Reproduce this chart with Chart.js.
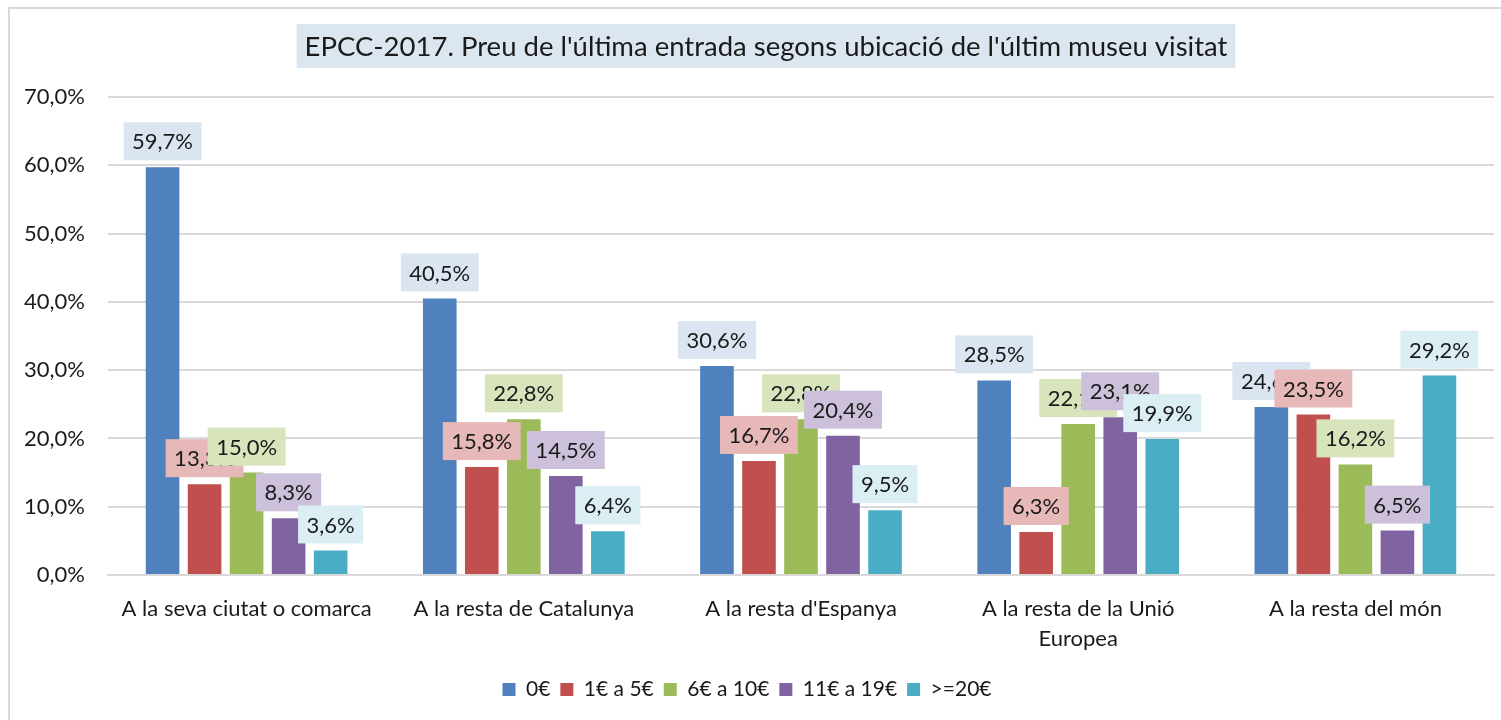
<!DOCTYPE html>
<html>
<head>
<meta charset="utf-8">
<script src="https://cdn.jsdelivr.net/npm/chart.js@4/dist/chart.umd.min.js"></script>
<style>
  html, body { margin: 0; padding: 0; background: #ffffff; }
  #wrap { position: relative; width: 1501px; height: 720px; }
</style>
</head>
<body>
<div id="wrap"><canvas id="chart" width="1501" height="720"></canvas></div>
<script>
// Museum location categories (x axis)
const categories = [
  'A la seva ciutat o comarca',
  'A la resta de Catalunya',
  "A la resta d'Espanya",
  ['A la resta de la Unió', 'Europea'],
  'A la resta del món'
];

// Ticket price brackets (series names)
const seriesNames = ['0€', '1€ a 5€', '6€ a 10€', '11€ a 19€', '>=20€'];

// Percentage of visitors per price bracket, one value per location
const price0 = [59.7, 40.5, 30.6, 28.5, 24.6];
const price1to5 = [13.3, 15.8, 16.7, 6.3, 23.5];
const price6to10 = [15.0, 22.8, 22.8, 22.1, 16.2];
const price11to19 = [8.3, 14.5, 20.4, 23.1, 6.5];
const price20plus = [3.6, 6.4, 9.5, 19.9, 29.2];

// Y axis tick values
const yTicks = [0, 10, 20, 30, 40, 50, 60, 70];

const chartTitle = "EPCC-2017. Preu de l'última entrada segons ubicació de l'últim museu visitat";

const barColors = ['#4f81bd', '#c0504d', '#9bbb59', '#8064a2', '#4bacc6'];
const labelFills = ['#dbe5f1', '#e6b9b8', '#d8e4bc', '#ccc0da', '#daeef3'];

const FONT = 'Lato, "Open Sans", sans-serif';
const fmt = v => v.toFixed(1).replace('.', ',') + '%';

// Light frame plus the boxed title at the top
const frameTitle = {
  id: 'frameTitle',
  beforeDraw(chart) {
    const ctx = chart.ctx;
    ctx.save();
    ctx.fillStyle = '#ffffff';
    ctx.fillRect(0, 0, chart.width, chart.height);
    ctx.strokeStyle = '#d9d9d9';
    ctx.lineWidth = 2;
    ctx.beginPath();
    ctx.moveTo(9, chart.height + 5);
    ctx.lineTo(9, 8);
    ctx.lineTo(chart.width + 5, 8);
    ctx.stroke();

    ctx.font = '27.5px ' + FONT;
    ctx.textBaseline = 'middle';
    ctx.textAlign = 'center';
    const cx = 766, cy = 46;
    const w = ctx.measureText(chartTitle).width + 16;
    ctx.fillStyle = '#dce6f1';
    ctx.fillRect(cx - w / 2, 24, w, 44);
    ctx.fillStyle = '#1a1a1a';
    ctx.fillText(chartTitle, cx, cy + 1);
    ctx.restore();
  }
};

// Value boxes above every bar, drawn series by series
const valueBoxes = {
  id: 'valueBoxes',
  afterDatasetsDraw(chart) {
    const ctx = chart.ctx;
    ctx.save();
    ctx.font = '22px ' + FONT;
    ctx.textAlign = 'center';
    ctx.textBaseline = 'middle';
    chart.data.datasets.forEach((ds, i) => {
      const meta = chart.getDatasetMeta(i);
      meta.data.forEach((bar, j) => {
        const txt = fmt(ds.data[j]);
        const w = ctx.measureText(txt).width + 17;
        const h = 38;
        const bottom = bar.y - 7;
        ctx.fillStyle = labelFills[i];
        ctx.fillRect(bar.x - w / 2, bottom - h, w, h);
        ctx.fillStyle = '#1a1a1a';
        ctx.fillText(txt, bar.x, bottom - h / 2 + 1);
      });
    });
    ctx.restore();
  }
};

const seriesData = [price0, price1to5, price6to10, price11to19, price20plus];

new Chart(document.getElementById('chart'), {
  type: 'bar',
  data: {
    labels: categories,
    datasets: seriesData.map((d, i) => ({
      label: seriesNames[i],
      data: d,
      backgroundColor: barColors[i],
      borderWidth: 0,
      categoryPercentage: 0.758,
      barPercentage: 0.8
    }))
  },
  options: {
    responsive: false,
    animation: false,
    devicePixelRatio: 1,
    layout: { padding: { top: 97, right: 7, left: 0, bottom: 10 } },
    plugins: {
      title: { display: false },
      tooltip: { enabled: false },
      legend: {
        position: 'bottom',
        labels: {
          color: '#1a1a1a',
          font: { family: FONT, size: 21 },
          boxWidth: 13,
          boxHeight: 13,
          padding: 10
        }
      }
    },
    scales: {
      y: {
        min: 0,
        max: 70,
        afterBuildTicks(scale) { scale.ticks = yTicks.map(v => ({ value: v })); },
        afterFit(scale) { scale.width = 108; },
        ticks: {
          color: '#1a1a1a',
          font: { family: FONT, size: 22 },
          padding: 23,
          callback: v => fmt(v)
        },
        grid: { color: '#d9d9d9', lineWidth: 2, drawTicks: false },
        border: { display: false }
      },
      x: {
        afterFit(scale) { scale.height = 94; },
        ticks: {
          color: '#1a1a1a',
          font: { family: FONT, size: 22, lineHeight: 1.36 },
          padding: 19,
          maxRotation: 0,
          autoSkip: false
        },
        grid: { display: false, drawTicks: false },
        border: { display: true, color: '#d9d9d9', width: 2 }
      }
    }
  },
  plugins: [frameTitle, valueBoxes]
});
</script>
</body>
</html>
